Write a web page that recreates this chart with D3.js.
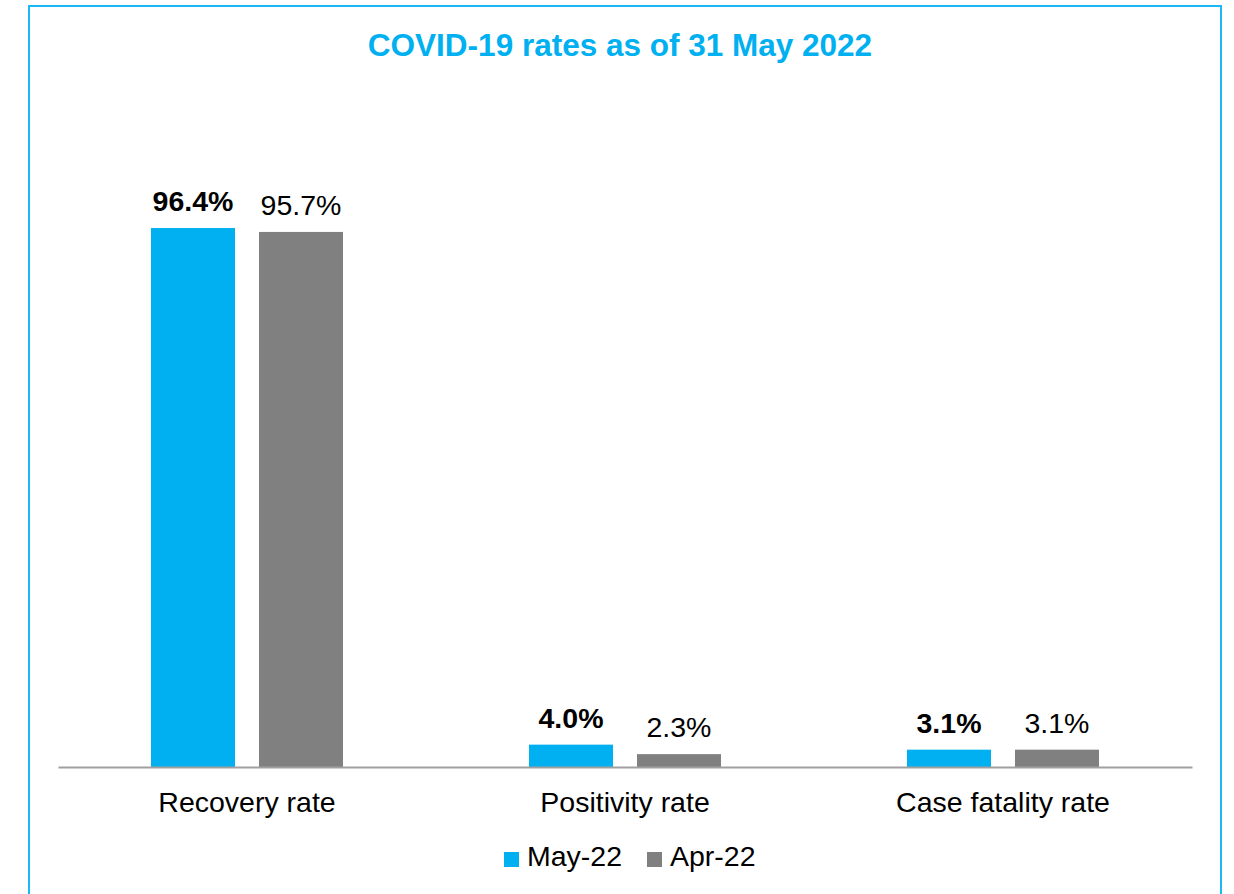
<!DOCTYPE html>
<html>
<head>
<meta charset="utf-8">
<script src="https://cdn.jsdelivr.net/npm/d3@7/dist/d3.min.js"></script>
<style>
  html, body { margin: 0; padding: 0; background: #fff; }
  svg { display: block; font-family: "Liberation Sans", Arial, sans-serif; }
</style>
</head>
<body>
<svg id="chart" width="1234" height="894"></svg>
<script>
const categories = ["Recovery rate", "Positivity rate", "Case fatality rate"];
const seriesNames = ["May-22", "Apr-22"];
const may22 = [96.4, 4.0, 3.1];
const apr22 = [95.7, 2.3, 3.1];
const seriesValues = [may22, apr22];
const seriesColors = ["#00B0F0", "#808080"];
const title = "COVID-19 rates as of 31 May 2022";

const svg = d3.select("#chart");

// outer frame
svg.append("rect")
  .attr("x", 29).attr("y", 6)
  .attr("width", 1192).attr("height", 900)
  .attr("fill", "none")
  .attr("stroke", "#1AB8F5")
  .attr("stroke-width", 2);

// title
svg.append("text")
  .attr("x", 620).attr("y", 56)
  .attr("text-anchor", "middle")
  .attr("font-size", 31.5)
  .attr("font-weight", "bold")
  .attr("fill", "#00B0F0")
  .text(title);

const baseY = 767;
const y = d3.scaleLinear().domain([0, 100]).range([baseY, baseY - 559.1]);
const x0 = d3.scaleBand().domain(categories).range([58, 1192]);
const x1 = d3.scaleBand().domain(seriesNames).range([-96, 96]).paddingInner(0.2222);

const data = [];
categories.forEach((c, i) => {
  seriesNames.forEach((s, j) => {
    data.push({ cat: c, series: s, si: j, value: seriesValues[j][i] });
  });
});

const g = svg.append("g");

g.selectAll("rect.bar")
  .data(data)
  .enter().append("rect")
  .attr("class", "bar")
  .attr("x", d => x0(d.cat) + x0.bandwidth() / 2 + x1(d.series))
  .attr("y", d => y(d.value))
  .attr("width", x1.bandwidth())
  .attr("height", d => baseY - y(d.value))
  .attr("fill", d => seriesColors[d.si]);

g.selectAll("text.val")
  .data(data)
  .enter().append("text")
  .attr("class", "val")
  .attr("x", d => x0(d.cat) + x0.bandwidth() / 2 + x1(d.series) + x1.bandwidth() / 2)
  .attr("y", d => y(d.value) - 17)
  .attr("text-anchor", "middle")
  .attr("font-size", 28.5)
  .attr("font-weight", d => d.si === 0 ? "bold" : "normal")
  .attr("fill", "#000")
  .text(d => d.value.toFixed(1) + "%");

// x axis
const xAxis = d3.axisBottom(x0).tickSize(0).tickPadding(0);
const axG = svg.append("g").attr("transform", `translate(0,${baseY})`).call(xAxis);
axG.select(".domain").attr("stroke", "#A0A0A0").attr("stroke-width", 2);
axG.selectAll(".tick text")
  .attr("y", 45)
  .attr("dy", 0)
  .attr("font-size", 28.5)
  .attr("font-family", "\"Liberation Sans\", Arial, sans-serif")
  .attr("fill", "#000");

// legend
const legendItems = [{ x: 504, tx: 527 }, { x: 647, tx: 670 }];
const lg = svg.append("g");
seriesNames.forEach((s, j) => {
  lg.append("rect")
    .attr("x", legendItems[j].x).attr("y", 852)
    .attr("width", 15).attr("height", 15)
    .attr("fill", seriesColors[j]);
  lg.append("text")
    .attr("x", legendItems[j].tx).attr("y", 866)
    .attr("font-size", 28.5)
    .attr("fill", "#000")
    .text(s);
});
</script>
</body>
</html>
